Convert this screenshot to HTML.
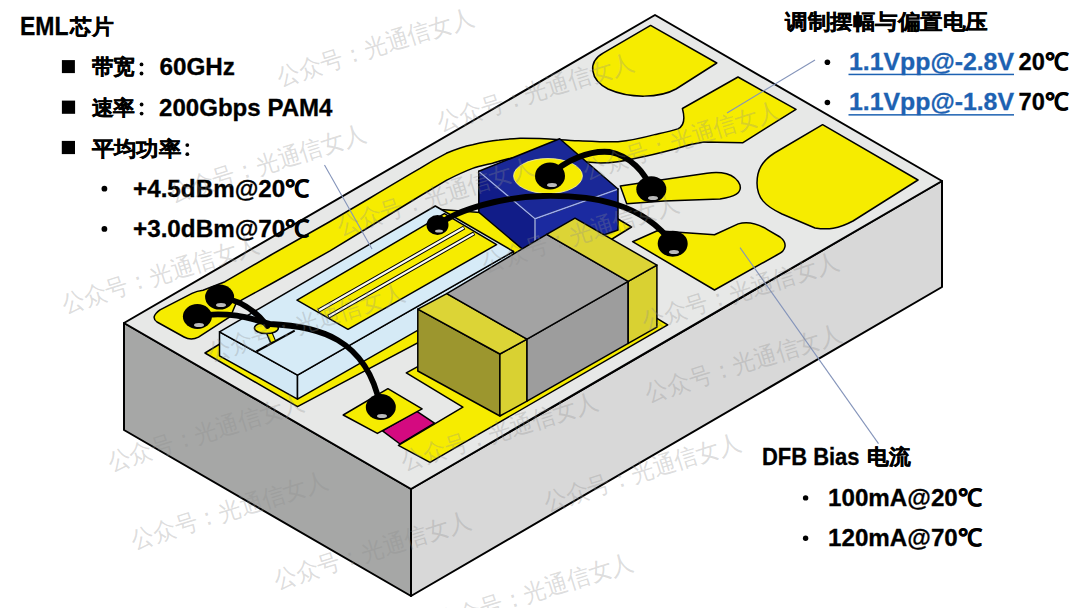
<!DOCTYPE html>
<html><head><meta charset="utf-8">
<style>
html,body{margin:0;padding:0;background:#fff;}
body{width:1080px;height:608px;overflow:hidden;position:relative;font-family:"Liberation Sans",sans-serif;}
svg{position:absolute;left:0;top:0;}
.t{position:absolute;white-space:nowrap;font-weight:bold;color:#000;line-height:1;}
</style></head><body>
<svg width="1080" height="608" viewBox="0 0 1080 608">
<g stroke="#000" stroke-width="1.5" stroke-linejoin="round">
<!-- block -->
<path d="M124,323 L411,489 L411,596 L124,430 Z" fill="#a6a7a6" stroke-width="2"/>
<path d="M411,489 L942,181 L942,287 L411,596 Z" fill="#d8d8d8" stroke-width="2"/>
<path d="M124,323 L655,15 L942,181 L411,489 Z" fill="#e7e8e7" stroke-width="2"/>
<!-- pads -->
<path d="M603.5,52.8 L650.6,25.4 L716.8,63 L676,89 C660,98 630,99 608,89 C590,80 587,62 603.5,52.8 Z" fill="#f6ec00"/>
<path d="M160,309.8 L192,293.4 Q197,290.8 203,290.2 L225,281.7 L270,255.5 L330,221.5 L370,198 C390,186 405,177 420,168.4 C430,162 438,157.5 446.3,153.3 C455,149.5 463,146.5 472.6,144.7 C482,142.5 490,141 499,140.1 C506,139.2 513,138.6 520,138.2 C545,138 560,140 578.5,140.7 C592,141.3 605,142 618,141.7 C632,140.5 644,137.5 655.6,134.4 C664,132.5 671,131 677.8,128.9 C684,126 685,118 682.4,108.5 L738,77 L796,109.4 L742.6,142.8 L704,142 C690,144 685,146 674,149.3 C660,153 648,156 637,158 C625,161 612,163 600,163 C570,162 540,155 512,157.9 C505,159.5 498,161.5 492.4,163.2 C485,165 478,166.5 472.6,168.4 C463,172 455,176 446.3,180.3 L420,196 L370,226.5 L330,250.9 L270,284.5 L242.8,299.4 L236,303.5 L230.6,316.3 L198.5,337.2 Q191,341 184,337 L157,322 Q150,317 160,309.8 Z" fill="#f6ec00"/>
<path d="M822.6,124.7 L918,180 L853,221 C838,229 828,230 815,228 L782,214 C765,206 757,198 757,183 C757,170 762,161 774.5,153 Z" fill="#f6ec00"/>
<path d="M620.3,186 L664,179.6 L707,173.2 C720,171 735,173 740,185 C742,193 735,197 720,198.9 L664,201 L626.7,203.8 Z" fill="#f6ec00"/>
<path d="M632.6,241.7 L657.3,230.8 L714.5,234.7 L738.2,223.9 C745,222 755,222 767.8,229.8 L780,237 C788,243 786,251 777.7,254.5 L714.5,290 Z" fill="#f6ec00"/>
<!-- EML pad + blue pad -->
<path d="M205,353 L441,209.5 L480,212.5 L560,185 L618,219 L631.5,227 L604,244 L297.5,406.7 Z" fill="#f6ec00"/>
<path d="M382.5,430.8 L416.5,411.2 L434.5,423.2 L400,444 Z" fill="#d40a80"/>
<!-- cap pad -->
<path d="M406.3,372.9 L585,275 L667.7,324.8 L430,462.4 L398.4,445.3 L462.9,407.1 Z" fill="#f6ec00"/>
<!-- bottom pad + magenta -->
<path d="M343.2,415 L387.9,388.7 L422.1,408.9 L377.4,433.4 Z" fill="#f6ec00"/>
<!-- EML chip -->
<path d="M219.5,331.8 L297.5,375.1 L297.5,399.1 L219.5,355.8 Z" fill="#d2e8f5"/>
<path d="M297.5,375.1 L513.5,251.5 L513.5,275.5 L297.5,399.1 Z" fill="#d5eaf6"/>
<path d="M219.5,331.8 L435.3,206 L513.5,251.5 L297.5,375.1 Z" fill="#d6ebf7"/>
<path d="M297,300.2 L444.4,213.7 L496.6,244.6 L348,329.3 Z" fill="#f6ec00"/>
<path d="M318.3,310.8 L464.2,227.5 M328.3,316.7 L474.2,233.3" stroke="#000" stroke-width="4.2" stroke-linecap="butt"/>
<path d="M318.9,310.5 L463.7,227.8 M328.9,316.4 L473.7,233.6" stroke="#fbfbf4" stroke-width="2.2" stroke-linecap="butt"/>
<path d="M256.4,351.5 L294.7,330.6" stroke-width="2"/>
<path d="M268.5,331 L273,342" stroke="#000" stroke-width="6.5" stroke-linecap="butt"/>
<path d="M268.5,331 L273,341.3" stroke="#f6ec00" stroke-width="4" stroke-linecap="butt"/>
<ellipse cx="266.4" cy="328" rx="12" ry="5.6" fill="#f6ec00"/>
<!-- blue block -->
<path d="M478.8,171.3 L535,218.7 L535,259.7 L478.8,212.3 Z" fill="#111c88"/>
<path d="M535,218.7 L618,189 L618,230 L535,259.7 Z" fill="#1b2aa0"/>
<path d="M478.8,171.3 L559.7,138.8 L618,189 L535,218.7 Z" fill="#1a2897"/>
<path d="M479.5,172 L535,218.7 L617,189.5 M535,219 L535,259" stroke="#9aaaf5" stroke-width="1.5" fill="none"/>
<ellipse cx="548" cy="176" rx="34.4" ry="17.5" fill="#f6ec00" stroke="#fdf8a0" stroke-width="0.8"/>
<!-- capacitor -->
<path d="M417.8,309.1 L499.9,354 L499.9,416 L417.8,371 Z" fill="#9c962e"/>
<path d="M499.9,354 L527,339.2 L527,401.2 L499.9,416 Z" fill="#d9d132"/>
<path d="M527,339.2 L628.2,281.4 L628.2,343.4 L527,401.2 Z" fill="#9d9d9d"/>
<path d="M628.2,281.4 L656.9,265.1 L656.9,327.1 L628.2,343.4 Z" fill="#d9d132"/>
<path d="M417.8,309.1 L446.8,293.6 L527,339.2 L499.9,354 Z" fill="#dcd436"/>
<path d="M446.8,293.6 L546.7,234.3 L628.2,281.4 L527,339.2 Z" fill="#a3a3a3"/>
<path d="M546.7,234.3 L575,218.2 L656.9,265.1 L628.2,281.4 Z" fill="#dcd436"/>
</g>
<!-- wires -->
<g fill="none" stroke="#000" stroke-width="5.8" stroke-linecap="round">
<path d="M220,297 C240,300 255,310 267.5,326"/>
<path d="M197,316 C228,311 250,318 270,324 C318,326 366,338 380,405"/>
<path d="M438,225 C458,209 503,197 543,196 C593,195 643,203 672.7,243.8"/>
<path d="M550,176 C565,160 590,150 610,152 C630,156 645,172 651,189"/>
</g>
<!-- balls -->
<g fill="#000">
<ellipse cx="197.4" cy="316.5" rx="14.5" ry="12.5"/>
<ellipse cx="219.6" cy="297.1" rx="14.5" ry="12.5"/>
<ellipse cx="437.5" cy="225" rx="11" ry="10"/>
<ellipse cx="550" cy="176" rx="15" ry="13.5"/>
<ellipse cx="651.3" cy="189.2" rx="15" ry="13"/>
<ellipse cx="672.7" cy="243.8" rx="15" ry="13"/>
<ellipse cx="380.8" cy="407.1" rx="15" ry="13"/>
</g>
<g fill="#bbb">
<ellipse cx="199" cy="325" rx="5" ry="2"/>
<ellipse cx="221" cy="305" rx="5" ry="2"/>
<ellipse cx="439" cy="231" rx="4" ry="1.6"/>
<ellipse cx="552" cy="185" rx="5" ry="2"/>
<ellipse cx="653" cy="198" rx="5" ry="2"/>
<ellipse cx="674" cy="252" rx="5" ry="2"/>
<ellipse cx="382" cy="416" rx="5" ry="2"/>
</g>
<!-- leader lines -->
<g stroke="#8494ba" stroke-width="1.1" fill="none">
<path d="M815,60 L727,113"/>
<path d="M740,247.6 L878.5,443.6"/>
<path d="M324.5,165 L372,249"/>
</g>

<g font-family="'Liberation Sans', sans-serif" font-weight="bold" fill="#000">
<text x="20.0" y="34.8" font-size="25" textLength="48.5" lengthAdjust="spacingAndGlyphs" stroke="#000" stroke-width="0.3">EML</text>
<text x="70.0" y="33.6" font-size="21" textLength="43.5" lengthAdjust="spacingAndGlyphs" stroke="#000" stroke-width="0.3">芯片</text>
<text x="91.5" y="74.2" font-size="21" textLength="43.5" lengthAdjust="spacingAndGlyphs" stroke="#000" stroke-width="0.3">带宽</text>
<text x="159.5" y="75.0" font-size="24" textLength="75.5" lengthAdjust="spacingAndGlyphs" stroke="#000" stroke-width="0.3">60GHz</text>
<text x="91.5" y="115.4" font-size="21" textLength="43.5" lengthAdjust="spacingAndGlyphs" stroke="#000" stroke-width="0.3">速率</text>
<text x="159.0" y="115.8" font-size="24" textLength="173.5" lengthAdjust="spacingAndGlyphs" stroke="#000" stroke-width="0.3">200Gbps PAM4</text>
<text x="91.5" y="155.6" font-size="21" textLength="89.5" lengthAdjust="spacingAndGlyphs" stroke="#000" stroke-width="0.3">平均功率</text>
<text x="133.0" y="196.8" font-size="24" textLength="176.5" lengthAdjust="spacingAndGlyphs" stroke="#000" stroke-width="0.3">+4.5dBm@20℃</text>
<text x="133.0" y="236.7" font-size="24" textLength="176.5" lengthAdjust="spacingAndGlyphs" stroke="#000" stroke-width="0.3">+3.0dBm@70℃</text>
<text x="785.0" y="28.7" font-size="20.5" textLength="203.0" lengthAdjust="spacingAndGlyphs" stroke="#000" stroke-width="0.3">调制摆幅与偏置电压</text>
<text x="849.0" y="69.8" font-size="24" textLength="165.0" lengthAdjust="spacingAndGlyphs" fill="#1d62b2" stroke="#1d62b2" stroke-width="0.3">1.1Vpp@-2.8V</text>
<text x="1018.5" y="69.8" font-size="24" textLength="50.0" lengthAdjust="spacingAndGlyphs" stroke="#000" stroke-width="0.3">20℃</text>
<text x="849.0" y="110.2" font-size="24" textLength="165.0" lengthAdjust="spacingAndGlyphs" fill="#1d62b2" stroke="#1d62b2" stroke-width="0.3">1.1Vpp@-1.8V</text>
<text x="1018.5" y="110.2" font-size="24" textLength="50.0" lengthAdjust="spacingAndGlyphs" stroke="#000" stroke-width="0.3">70℃</text>
<text x="762.0" y="464.8" font-size="24" textLength="97.5" lengthAdjust="spacingAndGlyphs" stroke="#000" stroke-width="0.3">DFB Bias</text>
<text x="867.0" y="464.0" font-size="21" textLength="43.5" lengthAdjust="spacingAndGlyphs" stroke="#000" stroke-width="0.3">电流</text>
<text x="828.0" y="505.6" font-size="24" textLength="154.0" lengthAdjust="spacingAndGlyphs" stroke="#000" stroke-width="0.3">100mA@20℃</text>
<text x="828.0" y="545.9" font-size="24" textLength="154.0" lengthAdjust="spacingAndGlyphs" stroke="#000" stroke-width="0.3">120mA@70℃</text>
<rect x="61.9" y="60.1" width="13" height="13"/>
<rect x="61.9" y="100.6" width="13.2" height="13.2"/>
<rect x="61.8" y="140.9" width="13.2" height="13.2"/>
<circle cx="141.5" cy="64.4" r="1.9"/><circle cx="141.5" cy="73.5" r="1.9"/>
<circle cx="141.6" cy="104.5" r="1.9"/><circle cx="141.6" cy="113.6" r="1.9"/>
<circle cx="187.3" cy="145.1" r="1.9"/><circle cx="187.3" cy="154.2" r="1.9"/>
<circle cx="104.4" cy="188.7" r="2.9"/>
<circle cx="104.4" cy="228.9" r="2.9"/>
<circle cx="827.4" cy="62.3" r="2.8"/>
<circle cx="827.4" cy="102.5" r="2.8"/>
<circle cx="805.6" cy="497.9" r="2.7"/>
<circle cx="805.6" cy="538.2" r="2.7"/>
<rect x="848.5" y="73.7" width="165.5" height="1.5" fill="#1d62b2"/>
<rect x="848.5" y="114.1" width="165.5" height="1.5" fill="#1d62b2"/>
</g>
<g font-family="'Liberation Sans', sans-serif" font-size="24" fill="rgb(140,140,140)" fill-opacity="0.3">
<text x="280" y="85.5" transform="rotate(-17.5 280 85.5)" textLength="205" lengthAdjust="spacingAndGlyphs">公众号：光通信女人</text>
<text x="440.5" y="130.5" transform="rotate(-17.5 440.5 130.5)" textLength="205" lengthAdjust="spacingAndGlyphs">公众号：光通信女人</text>
<text x="172" y="202" transform="rotate(-17.5 172 202)" textLength="205" lengthAdjust="spacingAndGlyphs">公众号：光通信女人</text>
<text x="586" y="178.5" transform="rotate(-17.5 586 178.5)" textLength="205" lengthAdjust="spacingAndGlyphs">公众号：光通信女人</text>
<text x="340" y="235" transform="rotate(-17.5 340 235)" textLength="205" lengthAdjust="spacingAndGlyphs">公众号：光通信女人</text>
<text x="485" y="272" transform="rotate(-17.5 485 272)" textLength="205" lengthAdjust="spacingAndGlyphs">公众号：光通信女人</text>
<text x="645" y="330" transform="rotate(-17.5 645 330)" textLength="205" lengthAdjust="spacingAndGlyphs">公众号：光通信女人</text>
<text x="65" y="313" transform="rotate(-17.5 65 313)" textLength="205" lengthAdjust="spacingAndGlyphs">公众号：光通信女人</text>
<text x="211" y="361" transform="rotate(-17.5 211 361)" textLength="205" lengthAdjust="spacingAndGlyphs">公众号：光通信女人</text>
<text x="648.4" y="401.9" transform="rotate(-17.5 648.4 401.9)" textLength="205" lengthAdjust="spacingAndGlyphs">公众号：光通信女人</text>
<text x="404.3" y="470" transform="rotate(-17.5 404.3 470)" textLength="205" lengthAdjust="spacingAndGlyphs">公众号：光通信女人</text>
<text x="110.5" y="471" transform="rotate(-17.5 110.5 471)" textLength="205" lengthAdjust="spacingAndGlyphs">公众号：光通信女人</text>
<text x="134.3" y="549" transform="rotate(-17.5 134.3 549)" textLength="205" lengthAdjust="spacingAndGlyphs">公众号：光通信女人</text>
<text x="547" y="510.5" transform="rotate(-17.5 547 510.5)" textLength="205" lengthAdjust="spacingAndGlyphs">公众号：光通信女人</text>
<text x="277" y="589" transform="rotate(-17.5 277 589)" textLength="205" lengthAdjust="spacingAndGlyphs">公众号：光通信女人</text>
<text x="439.5" y="630.4" transform="rotate(-17.5 439.5 630.4)" textLength="205" lengthAdjust="spacingAndGlyphs">公众号：光通信女人</text>
</g>
</svg>



</body></html>
